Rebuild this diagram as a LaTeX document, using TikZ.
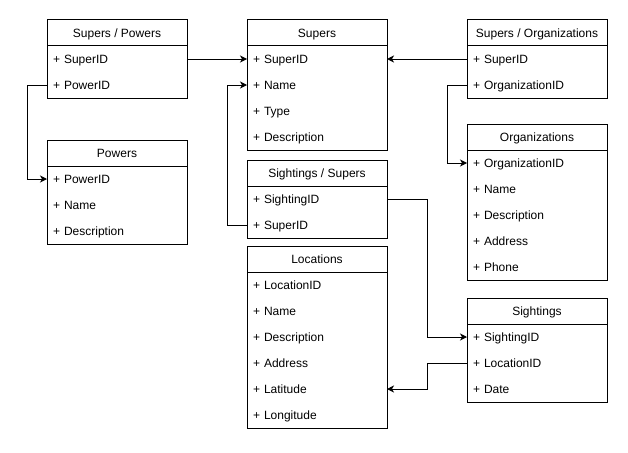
\documentclass[tikz,border=0pt]{standalone}
\usepackage{fontspec}
\setmainfont{Liberation Sans}
\usetikzlibrary{arrows.meta,positioning}

\begin{document}
\begin{tikzpicture}[
            x=1pt, y=-1pt,
            line width=1pt,
            node distance=0pt,
            every node/.style={font=\fontsize{12}{14}\selectfont, outer sep=0pt, text height=10pt, text depth=1.4pt},
            hdr/.style={draw, rectangle, minimum width=140pt, minimum height=26pt, inner sep=0pt},
            fld/.style={rectangle, text width=128pt, inner xsep=6pt, inner ysep=0pt, minimum height=26pt, align=left},
            link/.style={-{Stealth[length=7pt, width=7pt, inset=2pt]}}
        ]
            \useasboundingbox (0,0) rectangle (628,452);

            % Supers / Powers
            \node[hdr] (sp) at (117,33) {Supers / Powers};
            \node[fld, below=of sp] (sp1) {+ SuperID};
            \node[fld, below=of sp1] (sp2) {+ PowerID};
            \draw (sp1.north west) rectangle (sp2.south east);

            % Powers
            \node[hdr] (pw) at (117,153) {Powers};
            \node[fld, below=of pw] (pw1) {+ PowerID};
            \node[fld, below=of pw1] (pw2) {+ Name};
            \node[fld, below=of pw2] (pw3) {+ Description};
            \draw (pw1.north west) rectangle (pw3.south east);

            % Supers
            \node[hdr] (su) at (317,33) {Supers};
            \node[fld, below=of su] (su1) {+ SuperID};
            \node[fld, below=of su1] (su2) {+ Name};
            \node[fld, below=of su2] (su3) {+ Type};
            \node[fld, below=of su3] (su4) {+ Description};
            \draw (su1.north west) rectangle (su4.south east);

            % Sightings / Supers
            \node[hdr] (ss) at (317,173) {Sightings / Supers};
            \node[fld, below=of ss] (ss1) {+ SightingID};
            \node[fld, below=of ss1] (ss2) {+ SuperID};
            \draw (ss1.north west) rectangle (ss2.south east);

            % Locations
            \node[hdr] (lo) at (317,259) {Locations};
            \node[fld, below=of lo] (lo1) {+ LocationID};
            \node[fld, below=of lo1] (lo2) {+ Name};
            \node[fld, below=of lo2] (lo3) {+ Description};
            \node[fld, below=of lo3] (lo4) {+ Address};
            \node[fld, below=of lo4] (lo5) {+ Latitude};
            \node[fld, below=of lo5] (lo6) {+ Longitude};
            \draw (lo1.north west) rectangle (lo6.south east);

            % Supers / Organizations
            \node[hdr] (so) at (537,33) {Supers / Organizations};
            \node[fld, below=of so] (so1) {+ SuperID};
            \node[fld, below=of so1] (so2) {+ OrganizationID};
            \draw (so1.north west) rectangle (so2.south east);

            % Organizations
            \node[hdr] (og) at (537,137) {Organizations};
            \node[fld, below=of og] (og1) {+ OrganizationID};
            \node[fld, below=of og1] (og2) {+ Name};
            \node[fld, below=of og2] (og3) {+ Description};
            \node[fld, below=of og3] (og4) {+ Address};
            \node[fld, below=of og4] (og5) {+ Phone};
            \draw (og1.north west) rectangle (og5.south east);

            % Sightings
            \node[hdr] (si) at (537,311) {Sightings};
            \node[fld, below=of si] (si1) {+ SightingID};
            \node[fld, below=of si1] (si2) {+ LocationID};
            \node[fld, below=of si2] (si3) {+ Date};
            \draw (si1.north west) rectangle (si3.south east);

            % links
            \draw[link] (sp1.east) -- (su1.west);
            \draw[link] (sp2.west) -- ++(-20,0) |- (pw1.west);
            \draw[link] (so1.west) -- (su1.east);
            \draw[link] (so2.west) -- ++(-20,0) |- (og1.west);
            \draw[link] (ss2.west) -- ++(-20,0) |- (su2.west);
            \draw[link] (ss1.east) -- ++(40,0) |- (si1.west);
            \draw[link] (si2.west) -- ++(-40,0) |- (lo5.east);
        \end{tikzpicture}
\end{document}
